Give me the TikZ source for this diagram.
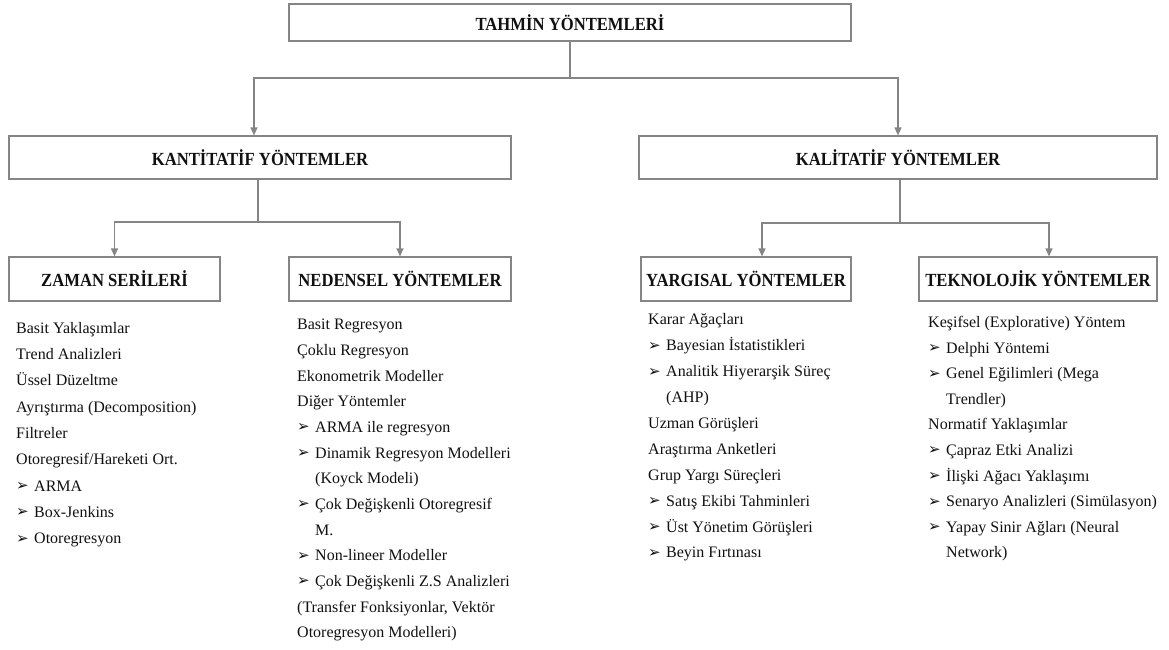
\documentclass[tikz,border=0pt]{standalone}
\usepackage{fontspec}
\setmainfont{Liberation Serif}
\newfontface\headfont[FakeStretch=0.9]{Liberation Serif Bold}
\newfontfamily\symfont{DejaVu Sans}
\usetikzlibrary{arrows.meta}
\definecolor{linegray}{HTML}{858585}
\definecolor{ink}{HTML}{101010}
% list bullet and hanging indent for wrapped bullet lines
\newcommand{\bul}{\makebox[18pt][l]{\raisebox{0.6pt}{\symfont\fontsize{15}{15}\selectfont ➢}}}
\newcommand{\cont}{\hspace*{18pt}}
\tikzset{
  box/.style={draw=linegray, line width=1.2pt, inner sep=0pt, text=ink,
    font=\headfont\fontsize{18.5}{20}\selectfont},
  link/.style={draw=linegray, line width=1.2pt},
  arr/.style={link, -{Triangle[length=8pt,width=7pt]}},
  list/.style={anchor=north west, inner sep=0pt, align=left, text=ink},
}
\begin{document}
\begin{tikzpicture}[x=1pt,y=-1pt]
\useasboundingbox (0,0) rectangle (1169,649);

% headings
\node[box, minimum width=562pt, minimum height=37pt] (top) at (570,22.5) {TAHMİN YÖNTEMLERİ};
\node[box, minimum width=502pt, minimum height=43pt] (kan) at (260,157.5) {KANTİTATİF YÖNTEMLER};
\node[box, minimum width=518pt, minimum height=43pt] (kal) at (898,157.5) {KALİTATİF YÖNTEMLER};
\node[box, minimum width=211pt, minimum height=44pt] (zam) at (114.5,279) {ZAMAN SERİLERİ};
\node[box, minimum width=222pt, minimum height=44pt] (ned) at (400,279) {NEDENSEL YÖNTEMLER};
\node[box, minimum width=210pt, minimum height=44pt] (yar) at (746,279) {YARGISAL YÖNTEMLER};
\node[box, minimum width=238pt, minimum height=44pt] (tek) at (1038,279) {TEKNOLOJİK YÖNTEMLER};

% junction points of the tree
\coordinate (j0) at (570,78);
\coordinate (jL) at (254,78);
\coordinate (jR) at (898,78);
\coordinate (k0) at (258,222);
\coordinate (k1) at (900,223);
\coordinate (aY) at (762,223);
\coordinate (aT) at (1049,223);

\draw[link] (top.south) -- (j0);
\draw[arr] (j0) -- (jL) -- (jL |- kan.north);
\draw[arr] (j0) -- (jR) -- (jR |- kal.north);

\draw[link] (k0 |- kan.south) -- (k0);
\draw[arr] (k0) -| (zam.north);
\draw[arr] (k0) -| (ned.north);

\draw[link] (k1 |- kal.south) -- (k1);
\draw[arr] (k1) -- (aY) -- (aY |- yar.north);
\draw[arr] (k1) -- (aT) -- (aT |- tek.north);

% method lists
\node[list, font=\fontsize{16}{26.3}\selectfont] (zl) at (16,322) {%
Basit Yaklaşımlar\\
Trend Analizleri\\
Üssel Düzeltme\\
Ayrıştırma (Decomposition)\\
Filtreler\\
Otoregresif/Hareketi Ort.\\
\bul ARMA\\
\bul Box-Jenkins\\
\bul Otoregresyon};

\node[list, font=\fontsize{16}{25.67}\selectfont] (nl) at (297,319) {%
Basit Regresyon\\
Çoklu Regresyon\\
Ekonometrik Modeller\\
Diğer Yöntemler\\
\bul ARMA ile regresyon\\
\bul Dinamik Regresyon Modelleri\\
\cont (Koyck Modeli)\\
\bul Çok Değişkenli Otoregresif\\
\cont M.\\
\bul Non-lineer Modeller\\
\bul Çok Değişkenli Z.S Analizleri\\
(Transfer Fonksiyonlar, Vektör\\
Otoregresyon Modelleri)};

\node[list, font=\fontsize{16}{25.9}\selectfont] (yl) at (648,313.5) {%
Karar Ağaçları\\
\bul Bayesian İstatistikleri\\
\bul Analitik Hiyerarşik Süreç\\
\cont (AHP)\\
Uzman Görüşleri\\
Araştırma Anketleri\\
Grup Yargı Süreçleri\\
\bul Satış Ekibi Tahminleri\\
\bul Üst Yönetim Görüşleri\\
\bul Beyin Fırtınası};

\node[list, font=\fontsize{16}{25.6}\selectfont] (tl) at (928,316) {%
Keşifsel (Explorative) Yöntem\\
\bul Delphi Yöntemi\\
\bul Genel Eğilimleri (Mega\\
\cont Trendler)\\
Normatif Yaklaşımlar\\
\bul Çapraz Etki Analizi\\
\bul İlişki Ağacı Yaklaşımı\\
\bul Senaryo Analizleri (Simülasyon)\\
\bul Yapay Sinir Ağları (Neural\\
\cont Network)};
\end{tikzpicture}
\end{document}
